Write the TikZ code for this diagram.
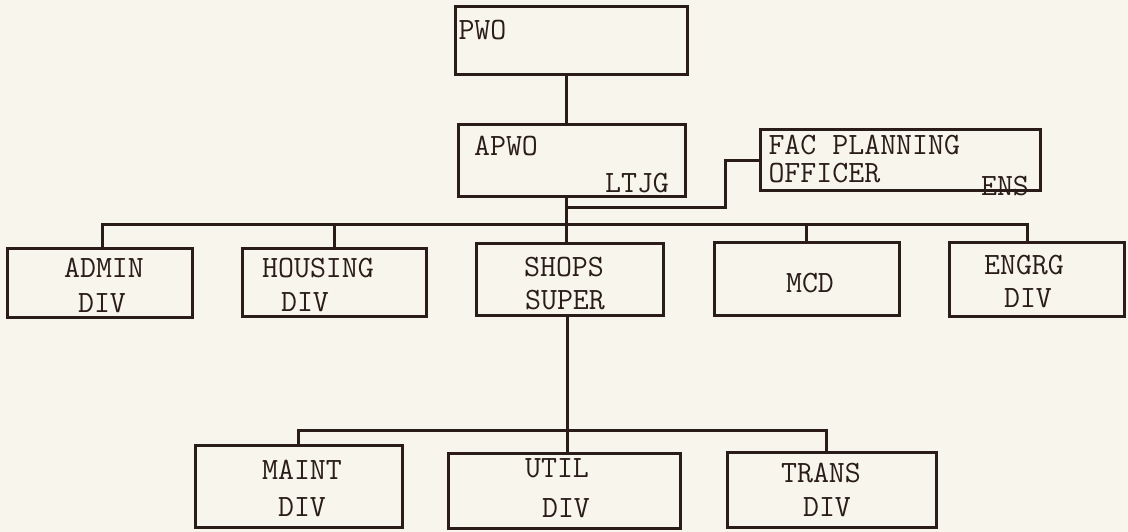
\documentclass[tikz,border=0pt]{standalone}
\usepackage{fontspec}
\definecolor{ink}{HTML}{2A1C18}
\definecolor{paper}{HTML}{F7F5EC}
\begin{document}
\begin{tikzpicture}[x=1pt,y=-1pt,line width=3pt,draw=ink,
  box/.style={draw=ink,line width=3pt,inner sep=0pt},
  txt/.style={text=ink,inner sep=0pt,font=\ttfamily\fontsize{31}{36}\selectfont}]
  \fill[paper] (0,0) rectangle (1128,532);
  \useasboundingbox (0,0) rectangle (1128,532);
  % boxes
  \node[box,minimum width=232pt,minimum height=68pt] (pwo) at (571,41) {};
  \node[box,minimum width=227pt,minimum height=72pt] (apwo) at (571.5,161) {};
  \node[box,minimum width=280pt,minimum height=61pt] (fac) at (900,160.5) {};
  \node[box,minimum width=185pt,minimum height=69pt] (admin) at (99.5,282.5) {};
  \node[box,minimum width=184pt,minimum height=68pt] (housing) at (334,282) {};
  \node[box,minimum width=187pt,minimum height=72pt] (shops) at (569.5,279) {};
  \node[box,minimum width=185pt,minimum height=73pt] (mcd) at (806.5,278.5) {};
  \node[box,minimum width=175pt,minimum height=74pt] (engrg) at (1036.5,279) {};
  \node[box,minimum width=207pt,minimum height=82pt] (maint) at (298.5,486) {};
  \node[box,minimum width=232pt,minimum height=75pt] (util) at (564,490.5) {};
  \node[box,minimum width=209pt,minimum height=75pt] (trans) at (831.5,489.5) {};
  % texts
  \node[txt,anchor=west] (pwo-a) at (457,30) {PWO};
  \node[txt] (apwo-a) at (506,146) {APWO};
  \node[txt] (apwo-b) at (637,183) {LTJG};
  \node[txt,anchor=west] (fac-a) at (767,145) {FAC PLANNING};
  \node[txt,anchor=west] (fac-b) at (767,173) {OFFICER};
  \node[txt] (fac-c) at (1005,186) {ENS};
  \node[txt] (admin-a) at (104,268) {ADMIN};
  \node[txt] (admin-b) at (102,303) {DIV};
  \node[txt] (housing-a) at (318,268) {HOUSING};
  \node[txt] (housing-b) at (305,302) {DIV};
  \node[txt] (shops-a) at (564,267) {SHOPS};
  \node[txt] (shops-b) at (565,300) {SUPER};
  \node[txt] (mcd-a) at (810,283) {MCD};
  \node[txt] (engrg-a) at (1024,265) {ENGRG};
  \node[txt] (engrg-b) at (1028,298) {DIV};
  \node[txt] (maint-a) at (302,470) {MAINT};
  \node[txt] (maint-b) at (302,507) {DIV};
  \node[txt] (util-a) at (557,468) {UTIL};
  \node[txt] (util-b) at (566,508) {DIV};
  \node[txt] (trans-a) at (821,473) {TRANS};
  \node[txt] (trans-b) at (827,507) {DIV};
  % connectors
  \coordinate (upbus) at (566,224);
  \coordinate (busL) at (102,224);
  \coordinate (busR) at (1027,224);
  \coordinate (facbend) at (725,208);
  \coordinate (lowmid) at (567,430);
  \coordinate (lowR) at (826,430);
  \draw (pwo.south -| upbus)--(apwo.north -| upbus);
  \draw (apwo.south -| upbus)--(shops.north -| upbus);
  \draw (fac.west) -| (facbend)--(facbend -| upbus);
  \draw (admin.north -| busL)--(busL)--(busR)--(engrg.north -| busR);
  \draw (housing.north)--(housing.north |- busL);
  \draw (mcd.north)--(mcd.north |- busL);
  \draw (shops.south -| lowmid)--(util.north -| lowmid);
  \draw (maint.north) |- (lowR)--(trans.north -| lowR);
\end{tikzpicture}
\end{document}
